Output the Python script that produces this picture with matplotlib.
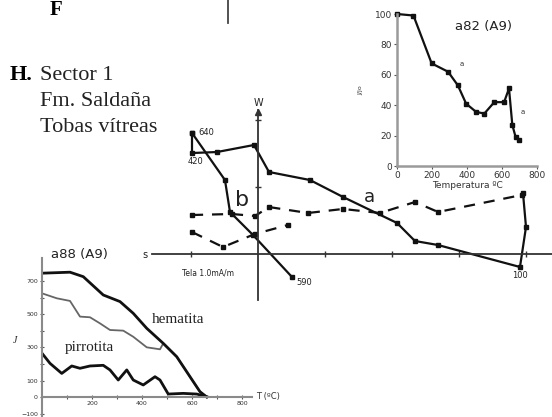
import matplotlib
matplotlib.use("Agg")
import matplotlib.pyplot as plt
from matplotlib.ticker import FixedLocator

W, H, DPI = 552, 417, 100

# ---------------- data ----------------
# Zijderveld diagram (units: 1.0 mA/m per tick)
zij_a_x = [-0.985, -0.985, -0.612, -0.06, 0.164, 0.776, 1.269, 2.075, 2.343, 2.687, 3.91, 4.0, 3.955]
zij_a_y = [1.806, 1.507, 1.522, 1.627, 1.224, 1.104, 0.851, 0.463, 0.194, 0.134, -0.194, 0.403, 0.910]
zij_b_x = [-0.985, -0.493, -0.418, -0.075, 0.507]
zij_b_y = [1.806, 1.104, 0.627, 0.284, -0.343]
zij_d1_x = [-0.985, -0.388, -0.045, 0.164, 0.746, 1.269, 1.82, 2.343, 2.687, 3.94]
zij_d1_y = [0.582, 0.597, 0.567, 0.701, 0.612, 0.672, 0.612, 0.776, 0.627, 0.881]
zij_d2_x = [-0.985, -0.522, -0.045, 0.448]
zij_d2_y = [0.328, 0.104, 0.299, 0.433]
zij_ticks_x = [-1, 1, 2, 3, 4]
zij_ticks_y = [1, 2]

# thermal demagnetisation a82 (A9)
tm_T = [0, 94, 198, 292, 348, 395, 452, 499, 556, 612, 640, 659, 678, 697]
tm_J = [100, 99, 67.5, 62, 53, 41, 35.6, 34.5, 42, 42, 51, 27, 19, 17]
tm_xticks = [0, 200, 400, 600, 800]
tm_yticks = [0, 20, 40, 60, 80, 100]

# thermomagnetic curves a88 (A9)
hem_T = [0, 112, 165, 245, 312, 365, 419, 485, 539, 592, 632, 659]
hem_J = [750, 756, 729, 618, 578, 507, 416, 325, 244, 123, 32, 0]
mid_T = [0, 59, 112, 152, 192, 232, 272, 325, 365, 419, 472, 485, 539, 592, 632, 659]
mid_J = [628, 598, 582, 487, 483, 446, 406, 402, 365, 301, 289, 325, 244, 123, 32, 0]
pyr_T = [0, 32, 79, 119, 152, 192, 245, 272, 305, 339, 365, 405, 452, 472, 505, 565, 619, 659]
pyr_J = [265, 204, 143, 188, 174, 188, 192, 164, 103, 164, 103, 73, 123, 103, 18, 22, 18, 2]
bl_xticks = [200, 400, 600, 800]
bl_xminor = [100, 300, 500, 700]
bl_yticks = [-100, 0, 100, 300, 500, 700]
bl_yminor = [200, 400, 600]


def ax_px(fig, x0, y0, x1, y1):
    return fig.add_axes([x0 / W, 1 - y1 / H, (x1 - x0) / W, (y1 - y0) / H])


fig = plt.figure(figsize=(W / DPI, H / DPI), dpi=DPI)
fig.patch.set_facecolor("white")

# background axes in pixel coordinates for free text
bg = fig.add_axes([0, 0, 1, 1])
bg.set_xlim(0, W)
bg.set_ylim(H, 0)
bg.axis("off")

serif = "Liberation Serif"
bg.text(10, 80, "H.", fontsize=16, fontweight="bold", family=serif, va="baseline")
bg.text(40, 80, "Sector 1", fontsize=16, family=serif, va="baseline", color="#222")
bg.text(40, 106, "Fm. Saldaña", fontsize=16, family=serif, va="baseline", color="#222")
bg.text(40, 132, "Tobas vítreas", fontsize=16, family=serif, va="baseline", color="#222")
# fragment of previous panel
bg.text(50, 15, "F", fontsize=15, fontweight="bold", family=serif, va="baseline")
bg.axvline(228, ymin=1 - 23 / H, ymax=1, color="#444", lw=1.3)

# ---------------- Zijderveld ----------------
zx0, zy0, unit = 258, 254, 67.0
axz = ax_px(fig, 140, 100, 552, 300)
axz.set_facecolor("none")
axz.set_xlim((140 - zx0) / unit, (552 - zx0) / unit)
axz.set_ylim((zy0 - 300) / unit, (zy0 - 100) / unit)
for s in ("top", "right"):
    axz.spines[s].set_visible(False)
axz.spines["left"].set_position(("data", 0))
axz.spines["bottom"].set_position(("data", 0))
axz.spines["left"].set_bounds((zy0 - 300) / unit, (zy0 - 110) / unit)
axz.spines["bottom"].set_bounds((152 - zx0) / unit, (552 - zx0) / unit)
for s in ("left", "bottom"):
    axz.spines[s].set_linewidth(1.3)
    axz.spines[s].set_color("#333")
axz.set_xticks(zij_ticks_x)
axz.set_yticks(zij_ticks_y)
axz.tick_params(direction="inout", length=4, width=1, colors="#333",
                labelbottom=False, labelleft=False)
axz.plot([0], [(zy0 - 112) / unit], marker="^", ms=4, color="#333", clip_on=False)

lw = 1.6
axz.plot(zij_a_x, zij_a_y, "-", color="#111", lw=lw, marker="s", ms=3)
axz.plot(zij_b_x, zij_b_y, "-", color="#111", lw=lw, marker="s", ms=3)
axz.plot(zij_d1_x, zij_d1_y, "--", color="#111", lw=lw, marker="s", ms=3,
         dashes=(5, 4))
axz.plot(zij_d2_x, zij_d2_y, "--", color="#111", lw=lw, marker="s", ms=3,
         dashes=(5, 4))

lab = dict(fontsize=6, color="#222", textcoords="offset pixels")
axz.annotate("640", (zij_a_x[0], zij_a_y[0]), xytext=(6, 0), va="center", **lab)
axz.annotate("420", (zij_a_x[1], zij_a_y[1]), xytext=(3, -8), ha="center", va="center", **lab)
axz.annotate("100", (zij_a_x[10], zij_a_y[10]), xytext=(0, -9), ha="center", va="center", **lab)
axz.annotate("590", (zij_b_x[-1], zij_b_y[-1]), xytext=(4, -6), va="center", **lab)
axz.text(1.67, 0.85, "a", fontsize=13, ha="center", va="center", color="#222")
axz.text(-0.24, 0.80, "b", fontsize=16, ha="center", va="center", color="#222")
axz.text(0, 2.254, "W", fontsize=7, ha="center", va="center", color="#222")
axz.text(-1.69, -0.015, "s", fontsize=7, ha="center", va="center", color="#222")
axz.text(-0.75, -0.284, "Tela 1.0mA/m", fontsize=5.5, ha="center", va="center", color="#222")

# ---------------- top-right inset ----------------
ax2 = ax_px(fig, 397, 14, 537, 166)
ax2.set_facecolor("none")
ax2.set_xlim(0, 800)
ax2.set_ylim(0, 100)
for s in ("top", "right"):
    ax2.spines[s].set_visible(False)
for s in ("left", "bottom"):
    ax2.spines[s].set_linewidth(1.8)
    ax2.spines[s].set_color("#9a9a9a")
ax2.set_xticks(tm_xticks)
ax2.set_yticks(tm_yticks)
ax2.tick_params(length=2, width=0.8, colors="#555", labelsize=6.5, pad=1.5,
                labelcolor="#333")
ax2.plot(tm_T, tm_J, "-", color="#111", lw=1.6, marker="s", ms=2.5, clip_on=False)
ax2.set_xlabel("Temperatura ºC", fontsize=6.5, labelpad=1, color="#333")
ax2.text(0.62, 0.92, "a82 (A9)", transform=ax2.transAxes, fontsize=9.5,
         ha="center", va="center", color="#222")
ax2.text(-0.26, 0.5, "J/Jo", transform=ax2.transAxes, fontsize=4.5,
         rotation=90, ha="center", va="center", color="#333")
ax2.text(tm_T[4] + 10, tm_J[4] + 13, "a", fontsize=5, color="#333")
ax2.text(tm_T[-1] + 10, tm_J[-2] + 15, "a", fontsize=5, color="#333")

# ---------------- bottom-left inset ----------------
ax3 = ax_px(fig, 42, 258, 252, 417)
ax3.set_facecolor("none")
ax3.set_xlim(0, 840)
ax3.set_ylim(-121, 842)
for s in ("top", "right"):
    ax3.spines[s].set_visible(False)
ax3.spines["bottom"].set_position(("data", 0))
for s in ("left", "bottom"):
    ax3.spines[s].set_linewidth(1.5)
    ax3.spines[s].set_color("#8a8a8a")
ax3.xaxis.set_major_locator(FixedLocator(bl_xticks))
ax3.xaxis.set_minor_locator(FixedLocator(bl_xminor))
ax3.yaxis.set_major_locator(FixedLocator(bl_yticks))
ax3.yaxis.set_minor_locator(FixedLocator(bl_yminor))
ax3.tick_params(which="both", direction="inout", length=3, width=0.8,
                colors="#555", labelsize=4.5, pad=1.5, labelcolor="#333")
ax3.plot(mid_T, mid_J, "-", color="#666", lw=1.3)
ax3.plot(hem_T, hem_J, "-", color="#111", lw=2.0)
ax3.plot(pyr_T, pyr_J, "-", color="#111", lw=2.0)
ax3.text(0.18, 1.02, "a88 (A9)", transform=ax3.transAxes, fontsize=9.5,
         ha="center", va="center", color="#222")
ax3.text(-0.13, 0.484, "J", transform=ax3.transAxes, fontsize=7,
         ha="center", va="center", color="#222", family=serif, style="italic")
ax3.text(545, 470, "hematita", fontsize=11, family=serif, ha="center", va="center", color="#222")
ax3.text(188, 300, "pirrotita", fontsize=11, family=serif, ha="center", va="center", color="#222")
bg.text(256, 397, "T (ºC)", fontsize=6, ha="left", va="center", color="#333")

fig.savefig("out.png", dpi=DPI, facecolor="white")
